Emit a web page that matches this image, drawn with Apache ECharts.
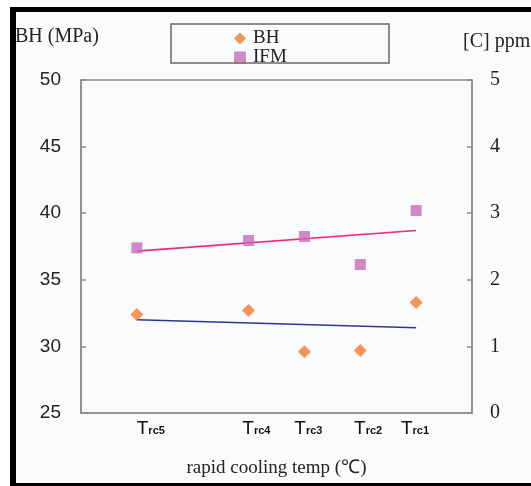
<!DOCTYPE html>
<html>
<head>
<meta charset="utf-8">
<script src="https://cdn.jsdelivr.net/npm/echarts@6/dist/echarts.min.js"></script>
<style>
  html, body { margin: 0; padding: 0; background: #ffffff; }
  #chart { width: 531px; height: 486px; }
</style>
</head>
<body>
<div id="chart"></div>
<script>
// Sample codes (rapid cooling temperatures) and their positions on the x scale
const sampleNames = ['rc5', 'rc4', 'rc3', 'rc2', 'rc1'];
const samplePos = [1, 3, 4, 5, 6];
// Where each sample label sits along the x scale
const labelPos = [1.25, 3.14, 4.07, 5.14, 5.98];

// BH hardness (MPa), left axis
const bhValues = [32.4, 32.7, 29.6, 29.7, 33.3];
// Internal friction measurement, carbon content [C] ppm, right axis
const ifmValues = [2.48, 2.59, 2.65, 2.23, 3.04];

// Trend lines: value at first and last sample
const bhTrend = [32.0, 31.4];
const ifmTrend = [2.43, 2.74];

const serif = 'Liberation Serif';
const sans = 'Liberation Sans';
const axisGray = '#8c8c8c';

const chart = echarts.init(document.getElementById('chart'), null, { renderer: 'canvas' });

const pairs = (xs, ys) => xs.map((x, i) => [x, ys[i]]);
const ends = [samplePos[0], samplePos[samplePos.length - 1]];

chart.setOption({
  animation: false,
  backgroundColor: '#ffffff',
  grid: {
    left: 81, right: 59, top: 80, bottom: 73,
    show: true, borderColor: axisGray, borderWidth: 1.5, backgroundColor: 'transparent'
  },
  legend: {
    data: ['BH', 'IFM'],
    orient: 'vertical',
    left: 229, top: 24,
    itemGap: 0,
    itemWidth: 12, itemHeight: 12,
    textStyle: { fontFamily: serif, fontSize: 19, color: '#222', padding: [0, 0, 0, 2] }
  },
  xAxis: {
    type: 'value', min: 0, max: 7,
    axisLine: { show: true, lineStyle: { color: axisGray, width: 1.5 } },
    axisTick: { show: false },
    splitLine: { show: false },
    axisLabel: {
      customValues: labelPos,
      margin: 6,
      formatter: (v) => {
        const i = labelPos.indexOf(v);
        return i < 0 ? '' : '{T|T}{s|' + sampleNames[i] + '}';
      },
      rich: {
        T: { fontFamily: sans, fontSize: 19, color: '#111', padding: [0, 0, 4, 0] },
        s: { fontFamily: sans, fontSize: 11, color: '#111', fontWeight: 'bold' }
      }
    },
    name: 'rapid cooling temp (℃)',
    nameLocation: 'middle',
    nameGap: 46,
    nameTextStyle: { fontFamily: serif, fontSize: 19, color: '#222' }
  },
  yAxis: [
    {
      type: 'value', position: 'left', min: 25, max: 50, interval: 5,
      axisLine: { show: true, lineStyle: { color: axisGray, width: 1.5 } },
      axisTick: { show: true, inside: true, length: 5, lineStyle: { color: axisGray, width: 1.5 } },
      splitLine: { show: false },
      axisLabel: { margin: 20, fontFamily: sans, fontSize: 19, color: '#222' }
    },
    {
      type: 'value', position: 'right', min: 0, max: 5, interval: 1,
      axisLine: { show: true, lineStyle: { color: axisGray, width: 1.5 } },
      axisTick: { show: true, inside: true, length: 5, lineStyle: { color: axisGray, width: 1.5 } },
      splitLine: { show: false },
      axisLabel: { margin: 18, fontFamily: serif, fontSize: 20, color: '#222' }
    }
  ],
  series: [
    {
      name: 'BH', type: 'scatter', yAxisIndex: 0,
      symbol: 'diamond', symbolSize: 13,
      itemStyle: { color: '#f47a2c' },
      data: pairs(samplePos, bhValues), z: 5
    },
    {
      name: 'IFM', type: 'scatter', yAxisIndex: 1,
      symbol: 'rect', symbolSize: 11,
      itemStyle: { color: '#c76cb6' },
      data: pairs(samplePos, ifmValues), z: 5
    },
    {
      name: 'BH trend', type: 'line', yAxisIndex: 0,
      symbol: 'none', lineStyle: { color: '#2b3892', width: 1.6 },
      data: pairs(ends, bhTrend), z: 3
    },
    {
      name: 'IFM trend', type: 'line', yAxisIndex: 1,
      symbol: 'none', lineStyle: { color: '#ef2b78', width: 1.6 },
      data: pairs(ends, ifmTrend), z: 3
    }
  ],
  graphic: [
    // panel background and dark frame
    { type: 'rect', z: -10, silent: true, shape: { x: 16, y: 12, width: 515, height: 471 }, style: { fill: '#fafbfd' } },
    { type: 'rect', z: 100, silent: true, shape: { x: 10, y: 7, width: 521, height: 5 }, style: { fill: '#000' } },
    { type: 'rect', z: 100, silent: true, shape: { x: 10, y: 7, width: 6, height: 479 }, style: { fill: '#000' } },
    { type: 'rect', z: 100, silent: true, shape: { x: 10, y: 483, width: 521, height: 3 }, style: { fill: '#000' } },
    // legend box
    { type: 'rect', z: 50, silent: true, shape: { x: 171, y: 24, width: 218, height: 39 }, style: { fill: 'none', stroke: '#6a6a6a', lineWidth: 1.5 } },
    // axis titles
    { type: 'text', z: 50, left: 15, top: 27, style: { text: 'BH (MPa)', fontFamily: serif, fontSize: 20, fill: '#222' } },
    { type: 'text', z: 50, left: 463, top: 32, style: { text: '[C] ppm', fontFamily: serif, fontSize: 20, fill: '#222' } }
  ]
});
</script>
</body>
</html>
